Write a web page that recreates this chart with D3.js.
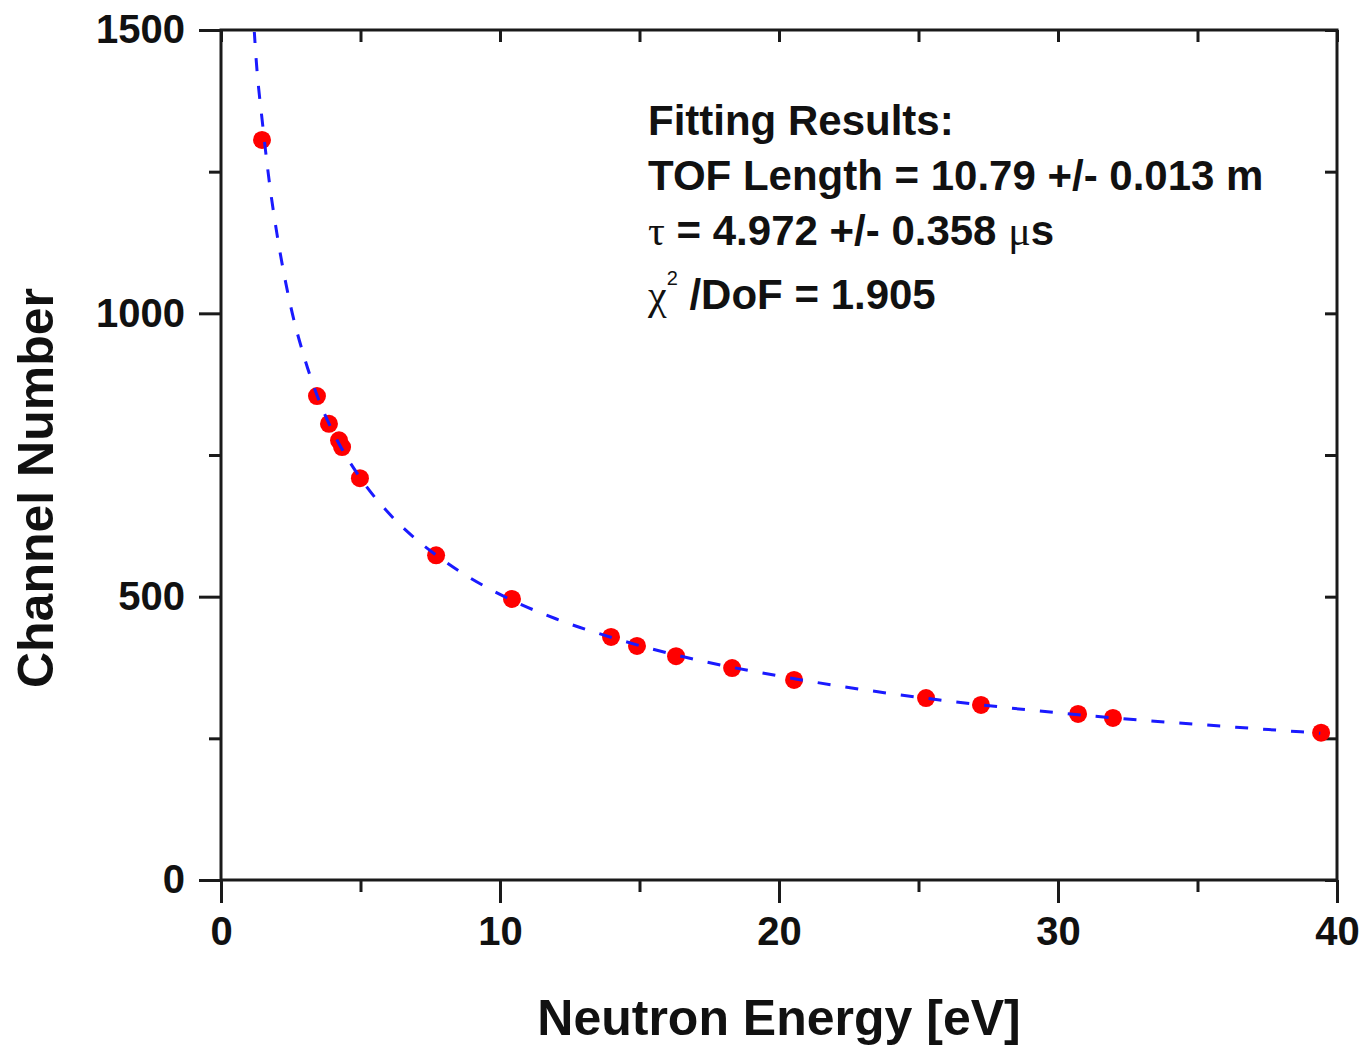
<!DOCTYPE html>
<html>
<head>
<meta charset="utf-8">
<script src="https://cdn.jsdelivr.net/npm/d3@7"></script>
<style>
  body { margin: 0; background: #fff; }
  svg { display: block; font-family: "Liberation Sans", Arial, sans-serif; }
</style>
</head>
<body>
<svg width="1364" height="1045"></svg>
<script>
var energy = [1.47, 3.44, 3.87, 4.23, 4.34, 4.98, 7.71, 10.43, 13.98, 14.91,
  16.31, 18.32, 20.54, 25.27, 27.24, 30.72, 31.97, 39.43];
var channel = [1306, 854, 805, 776, 764, 709, 573, 496, 429, 413,
  395, 374, 353, 321, 309, 293, 286, 260];

// fitted curve, sampled from the dashed line in the picture
var fitEnergy = [1.19, 1.25, 1.5, 1.75, 2, 2.5, 3, 3.5, 4, 5, 6, 7, 8, 10,
  12, 14, 17, 20, 24, 28, 32, 36, 39.4];
var fitChannel = [1500, 1455, 1330, 1225, 1142, 1012, 920, 848, 792, 709, 648,
  601, 563, 504, 461, 428, 389, 360, 329, 305, 286, 271, 259];

var xMajor = [0, 10, 20, 30, 40];
var xMinor = [5, 15, 25, 35];
var yMajor = [0, 500, 1000, 1500];
var yMinor = [250, 750, 1250];

var svg = d3.select('svg');

// plot box in pixels
var box = { left: 221, right: 1337, top: 30, bottom: 880 };

var x = d3.scaleLinear().domain([0, 40]).range([box.left, box.right]);
var y = d3.scaleLinear().domain([0, 1500]).range([box.bottom, box.top]);

var axisColor = '#1a1a1a';

// helper: draw an axis with no domain path and a given tick size
function drawAxis(axis, transform, label) {
  var g = svg.append('g').attr('transform', transform).call(axis);
  g.select('.domain').remove();
  g.selectAll('line').attr('stroke', axisColor).attr('stroke-width', 3);
  g.selectAll('text')
    .attr('fill', '#111')
    .style('font-size', '40px')
    .style('font-weight', 'bold');
  if (!label) g.selectAll('text').remove();
  return g;
}

// bottom axis: outward ticks
drawAxis(d3.axisBottom(x).tickValues(xMajor).tickSize(23).tickPadding(14)
  .tickFormat(d3.format('d')), 'translate(0,' + box.bottom + ')', true);
drawAxis(d3.axisBottom(x).tickValues(xMinor).tickSize(12), 'translate(0,' + box.bottom + ')', false);

// left axis: outward ticks
drawAxis(d3.axisLeft(y).tickValues(yMajor).tickSize(22).tickPadding(14)
  .tickFormat(d3.format('d')), 'translate(' + box.left + ',0)', true);
drawAxis(d3.axisLeft(y).tickValues(yMinor).tickSize(12), 'translate(' + box.left + ',0)', false);

// top axis: inward ticks
drawAxis(d3.axisTop(x).tickValues(xMajor).tickSize(-12), 'translate(0,' + box.top + ')', false);
drawAxis(d3.axisTop(x).tickValues(xMinor).tickSize(-12), 'translate(0,' + box.top + ')', false);

// right axis: inward ticks
drawAxis(d3.axisRight(y).tickValues(yMajor).tickSize(-12), 'translate(' + box.right + ',0)', false);
drawAxis(d3.axisRight(y).tickValues(yMinor).tickSize(-12), 'translate(' + box.right + ',0)', false);

// frame
svg.append('rect')
  .attr('x', box.left).attr('y', box.top)
  .attr('width', box.right - box.left).attr('height', box.bottom - box.top)
  .attr('fill', 'none')
  .attr('stroke', axisColor)
  .attr('stroke-width', 3);

// clip for the fit line
svg.append('clipPath').attr('id', 'plot-clip')
  .append('rect')
  .attr('x', box.left).attr('y', box.top + 2)
  .attr('width', box.right - box.left).attr('height', box.bottom - box.top);

var fitData = fitEnergy.map(function(e, i) { return [e, fitChannel[i]]; });

var line = d3.line()
  .x(function(d) { return x(d[0]); })
  .y(function(d) { return y(d[1]); })
  .curve(d3.curveMonotoneX);

var pts = energy.map(function(e, i) { return [e, channel[i]]; });

// red data points
svg.append('g')
  .selectAll('circle')
  .data(pts)
  .join('circle')
  .attr('cx', function(d) { return x(d[0]); })
  .attr('cy', function(d) { return y(d[1]); })
  .attr('r', 9)
  .attr('fill', '#ff0000');

// dashed blue fit on top
svg.append('path')
  .datum(fitData)
  .attr('clip-path', 'url(#plot-clip)')
  .attr('d', line)
  .attr('fill', 'none')
  .attr('stroke', '#1a1aff')
  .attr('stroke-width', 3)
  .attr('stroke-dasharray', '13,15');

// axis titles
svg.append('text')
  .attr('x', x(20)).attr('y', 1035)
  .attr('text-anchor', 'middle')
  .style('font-size', '50px')
  .style('font-weight', 'bold')
  .attr('fill', '#111')
  .text('Neutron Energy [eV]');

svg.append('text')
  .attr('transform', 'translate(53,488) rotate(-90)')
  .attr('text-anchor', 'middle')
  .style('font-size', '50px')
  .style('font-weight', 'bold')
  .attr('fill', '#111')
  .text('Channel Number');

// fitting results box
var note = svg.append('g')
  .attr('transform', 'translate(648,0)')
  .style('font-size', '42px')
  .style('font-weight', 'bold')
  .attr('fill', '#111');

var greek = 'font-family:"Liberation Serif","DejaVu Serif",serif;font-weight:normal';

note.append('text').attr('x', 0).attr('y', 135).text('Fitting Results:');
note.append('text').attr('x', 0).attr('y', 190).text('TOF Length = 10.79 +/- 0.013 m');

var t3 = note.append('text').attr('x', 0).attr('y', 245);
t3.append('tspan').attr('style', greek).text('τ');
t3.append('tspan').text(' = 4.972 +/- 0.358 ');
t3.append('tspan').attr('style', greek).text('μ');
t3.append('tspan').text('s');

var t4 = note.append('text').attr('x', 0).attr('y', 309);
t4.append('tspan').attr('style', greek).text('χ');
t4.append('tspan').attr('dy', -24).style('font-size', '20px').style('font-weight', 'normal').text('2');
t4.append('tspan').attr('dy', 24).text(' /DoF = 1.905');
</script>
</body>
</html>
